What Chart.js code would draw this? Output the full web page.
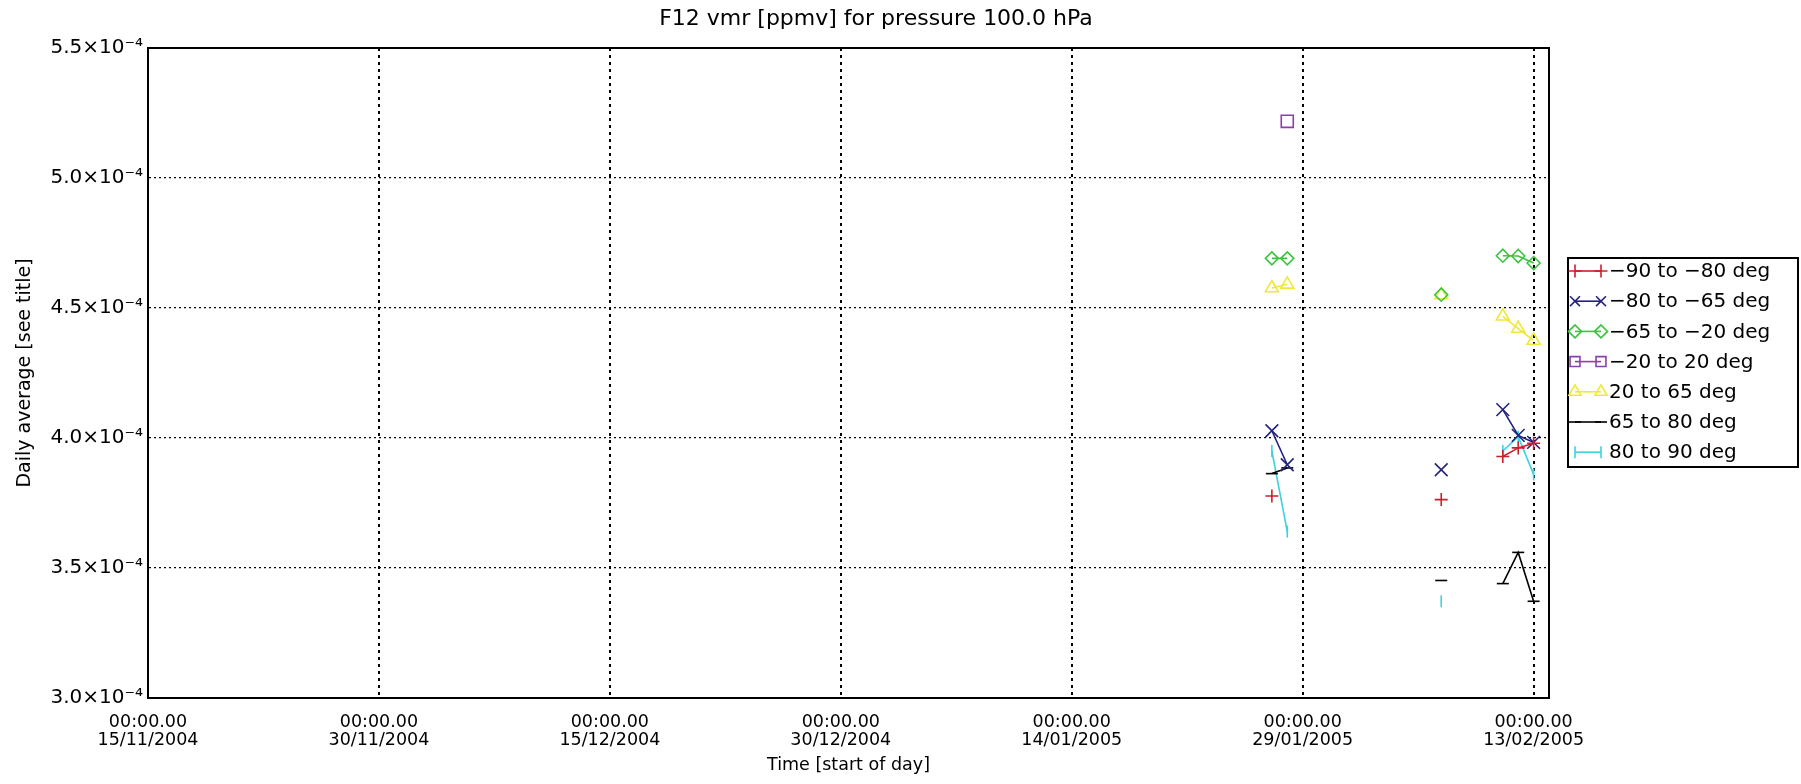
<!DOCTYPE html>
<html>
<head>
<meta charset="utf-8">
<script src="https://cdn.jsdelivr.net/npm/chart.js@4.4.1/dist/chart.umd.min.js"></script>
<style>
  html, body { margin: 0; padding: 0; background: #fff; }
</style>
</head>
<body>
<canvas id="f12Chart" width="1801" height="784"></canvas>
<script>
// x values are days counted from 15/11/2004 00:00 (start of day)
const dayDates = ['27/01/2005', '28/01/2005', '07/02/2005', '11/02/2005', '12/02/2005', '13/02/2005'];
const dayOffsets = [73, 74, 84, 88, 89, 90];

// daily average F12 vmr per latitude band (null = no value that day)
const bandLabels = ['−90 to −80 deg', '−80 to −65 deg', '−65 to −20 deg', '−20 to 20 deg', '20 to 65 deg', '65 to 80 deg', '80 to 90 deg'];
const southPole = [3.777e-4, null, 3.763e-4, 3.929e-4, 3.962e-4, 3.980e-4];
const southHigh = [4.028e-4, 3.897e-4, 3.878e-4, 4.109e-4, 4.010e-4, 3.983e-4];
const southMid = [4.691e-4, 4.691e-4, 4.551e-4, 4.701e-4, 4.700e-4, 4.673e-4];
const tropics = [null, 5.218e-4, null, null, null, null];
const northMid = [4.577e-4, 4.591e-4, 4.550e-4, 4.468e-4, 4.421e-4, 4.375e-4];
const northHigh = [3.863e-4, 3.885e-4, 3.452e-4, 3.440e-4, 3.560e-4, 3.372e-4];
const northPole = [3.950e-4, 3.640e-4, 3.372e-4, 3.950e-4, 4.005e-4, 3.860e-4];

const xTicks = [0, 15, 30, 45, 60, 75, 90];
const xTickLabels = [
  ['00:00.00', '15/11/2004'], ['00:00.00', '30/11/2004'], ['00:00.00', '15/12/2004'],
  ['00:00.00', '30/12/2004'], ['00:00.00', '14/01/2005'], ['00:00.00', '29/01/2005'],
  ['00:00.00', '13/02/2005']
];
const yTicks = [3.0e-4, 3.5e-4, 4.0e-4, 4.5e-4, 5.0e-4, 5.5e-4];
const yTickLabels = ['3.0×10⁻⁴', '3.5×10⁻⁴', '4.0×10⁻⁴', '4.5×10⁻⁴', '5.0×10⁻⁴', '5.5×10⁻⁴'];

const FONT = '"DejaVu Sans", "Liberation Sans", sans-serif';

function points(values) {
  return dayOffsets.map((d, i) => ({ x: d, y: values[i] })).filter(p => p.y !== null);
}

function band(i, values, color, style, radius, rotation) {
  return {
    label: bandLabels[i],
    data: points(values),
    borderColor: color,
    backgroundColor: 'rgba(0,0,0,0)',
    borderWidth: 1.6,
    pointStyle: style,
    pointRadius: radius,
    pointRotation: rotation || 0,
    pointBorderWidth: 1.6,
    pointBorderColor: color,
    pointBackgroundColor: 'rgba(0,0,0,0)',
    spanGaps: 1.5,
    tension: 0
  };
}

const datasets = [
  band(0, southPole, '#cc1f2a', 'cross', 6.5),
  band(1, southHigh, '#23237f', 'crossRot', 9),
  band(2, southMid, '#3cc43f', 'rectRot', 6.5),
  band(3, tropics, '#8a3fae', 'rect', 8.5),
  band(4, northMid, '#f0e838', 'triangle', 7.5),
  band(5, northHigh, '#000000', 'line', 6),
  band(6, northPole, '#3cd2e0', 'line', 6, 90)
];

// plot frame, title and boxed legend on the right
const extras = {
  id: 'extras',
  afterDraw(chart) {
    const ctx = chart.ctx;
    const a = chart.chartArea;
    ctx.save();
    ctx.strokeStyle = '#000';
    ctx.lineWidth = 2;
    ctx.strokeRect(a.left, a.top, a.right - a.left, a.bottom - a.top);

    ctx.fillStyle = '#000';
    ctx.font = '22px ' + FONT;
    ctx.textAlign = 'center';
    ctx.textBaseline = 'middle';
    ctx.fillText('F12 vmr [ppmv] for pressure 100.0 hPa', 876, 19);

    // legend
    const bx = 1568, by = 258, bw = 230, bh = 209;
    ctx.lineWidth = 2;
    ctx.strokeRect(bx, by, bw, bh);
    ctx.font = '20px ' + FONT;
    ctx.textAlign = 'left';
    chart.data.datasets.forEach((ds, i) => {
      const y = 271 + i * 30.2;
      ctx.strokeStyle = ds.borderColor;
      ctx.lineWidth = 1.6;
      ctx.beginPath();
      ctx.moveTo(bx + 7, y);
      ctx.lineTo(bx + 33, y);
      ctx.stroke();
      ctx.fillStyle = 'rgba(0,0,0,0)';
      [bx + 7, bx + 33].forEach(px => {
        Chart.helpers.drawPoint(ctx, {
          pointStyle: ds.pointStyle, radius: Math.min(ds.pointRadius, 7),
          rotation: ds.pointRotation, borderWidth: 1.6
        }, px, y);
      });
      ctx.fillStyle = '#000';
      ctx.fillText(ds.label, bx + 41, y + 1);
    });
    ctx.restore();
  }
};

new Chart(document.getElementById('f12Chart'), {
  type: 'line',
  data: { datasets: datasets },
  plugins: [extras],
  options: {
    responsive: false,
    animation: false,
    events: [],
    layout: { padding: { left: 0, top: 48, right: 252, bottom: 0 } },
    plugins: {
      legend: { display: false },
      tooltip: { enabled: false }
    },
    scales: {
      x: {
        type: 'linear',
        min: 0,
        max: 91,
        afterBuildTicks: s => { s.ticks = xTicks.map(v => ({ value: v })); },
        afterFit: s => { s.height = 86; },
        ticks: {
          autoSkip: false,
          maxRotation: 0,
          padding: 16,
          color: '#000',
          font: { family: FONT, size: 17.5, lineHeight: 1.02 },
          callback: (v, i) => xTickLabels[i]
        },
        grid: { color: '#000', lineWidth: 2, drawTicks: false },
        border: { display: true, color: '#000', width: 2, dash: [3, 4] },
        title: {
          display: true,
          text: 'Time [start of day]',
          color: '#000',
          font: { family: FONT, size: 17.5 },
          padding: { top: 0, bottom: 8 }
        }
      },
      y: {
        min: 3.0e-4,
        max: 5.5e-4,
        afterBuildTicks: s => { s.ticks = yTicks.map(v => ({ value: v })); },
        afterFit: s => { s.width = 148; },
        ticks: {
          padding: 5,
          color: '#000',
          font: { family: FONT, size: 20 },
          callback: (v, i) => yTickLabels[i]
        },
        grid: { color: '#000', lineWidth: 1.2, drawTicks: false },
        border: { display: true, color: '#000', width: 2, dash: [2, 3] },
        title: {
          display: true,
          text: 'Daily average [see title]',
          color: '#000',
          font: { family: FONT, size: 19 },
          padding: { top: 14, bottom: 0 }
        }
      }
    }
  }
});
</script>
</body>
</html>
